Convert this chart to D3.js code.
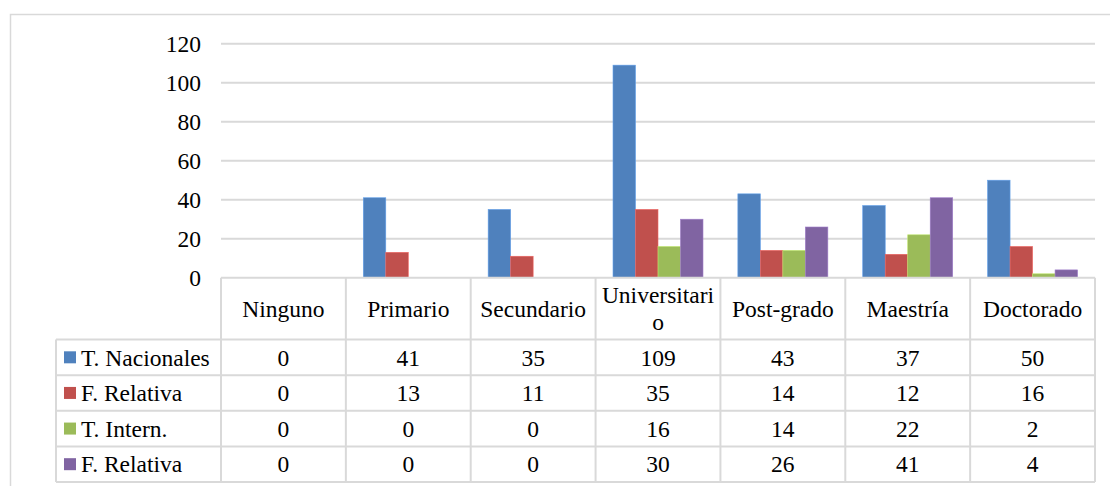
<!DOCTYPE html>
<html>
<head>
<meta charset="utf-8">
<script src="https://cdn.jsdelivr.net/npm/d3@7"></script>
<style>
  html, body { margin: 0; padding: 0; background: #fff; }
  svg { display: block; }
</style>
</head>
<body>
<svg id="chart" width="1110" height="486"></svg>
<script>
const categories = ["Ninguno", "Primario", "Secundario", "Universitario", "Post-grado", "Maestría", "Doctorado"];
const seriesNames = ["T. Nacionales", "F. Relativa", "T. Intern.", "F. Relativa"];
const seriesKeys = ["tNac", "fRel1", "tInt", "fRel2"];
const tNacionales = [0, 41, 35, 109, 43, 37, 50];
const fRelativa1 = [0, 13, 11, 35, 14, 12, 16];
const tIntern = [0, 0, 0, 16, 14, 22, 2];
const fRelativa2 = [0, 0, 0, 30, 26, 41, 4];
const yTicks = [0, 20, 40, 60, 80, 100, 120];
const colors = ["#4F81BD", "#C0504D", "#9BBB59", "#8064A2"];

const seriesValues = [tNacionales, fRelativa1, tIntern, fRelativa2];
const series = seriesKeys.map((k, i) => ({ key: k, name: seriesNames[i], values: seriesValues[i], color: colors[i] }));

const FONT = "'Liberation Serif', 'Times New Roman', serif";
const fontSize = 23.5;
const gridColor = "#D9D9D9";

const svg = d3.select("#chart");

function styleText(sel) {
  return sel.style("font-family", FONT).style("font-size", fontSize + "px").style("fill", "#000");
}

// layout
const plotLeft = 221, plotRight = 1095, plotTop = 43.7, plotBottom = 277.7;
const tableBottom = 482, headerBottom = 339.5, legendLeft = 56;

// outer border
svg.append("rect")
  .attr("x", 10.5).attr("y", 14.5).attr("width", 1120).attr("height", 490)
  .attr("fill", "none").attr("stroke", gridColor).attr("stroke-width", 1.5);

const x0 = d3.scaleBand().domain(categories).range([plotLeft, plotRight]).padding(0);
const x1 = d3.scaleBand().domain(seriesKeys).range([0, x0.bandwidth()]).paddingInner(0).paddingOuter(0.775);
const y = d3.scaleLinear().domain([0, 120]).range([plotBottom, plotTop]);

// gridlines
svg.append("g").selectAll("line").data(yTicks.filter(t => t !== 0)).join("line")
  .attr("x1", plotLeft).attr("x2", plotRight)
  .attr("y1", d => y(d)).attr("y2", d => y(d))
  .attr("stroke", gridColor).attr("stroke-width", 2);

// y axis labels via d3 axis
const yAxis = svg.append("g").attr("transform", `translate(${plotLeft},0)`)
  .call(d3.axisLeft(y).tickValues(yTicks).tickSize(0).tickPadding(20));
yAxis.attr("font-family", null).attr("font-size", null);
yAxis.select(".domain").remove();
styleText(yAxis.selectAll("text"));

// bars
const groups = svg.append("g").selectAll("g").data(categories).join("g")
  .attr("transform", d => `translate(${x0(d)},0)`);
groups.selectAll("rect")
  .data((c, ci) => series.map(s => ({ key: s.key, value: s.values[ci], color: s.color })))
  .join("rect")
  .attr("x", d => x1(d.key))
  .attr("width", x1.bandwidth())
  .attr("y", d => y(d.value))
  .attr("height", d => y(0) - y(d.value))
  .attr("fill", d => d.color)
  .attr("stroke", d => d3.color(d.color).brighter(0.6))
  .attr("stroke-width", d => d.value > 0 ? 0.6 : 0);

// data table
const rowY = d3.scaleBand().domain(seriesKeys.map((k, i) => i)).range([headerBottom, tableBottom]);
const tbl = svg.append("g").attr("stroke", gridColor).attr("stroke-width", 2);

tbl.append("line").attr("x1", plotLeft).attr("x2", plotRight).attr("y1", plotBottom).attr("y2", plotBottom);
const hLines = seriesKeys.map((k, i) => rowY(i)).concat([tableBottom]);
tbl.selectAll("line.h").data(hLines).join("line").attr("class", "h")
  .attr("x1", legendLeft).attr("x2", plotRight).attr("y1", d => d).attr("y2", d => d);
const vBounds = categories.map(c => x0(c)).concat([plotRight]);
tbl.selectAll("line.v").data(vBounds).join("line").attr("class", "v")
  .attr("x1", d => d).attr("x2", d => d).attr("y1", plotBottom).attr("y2", tableBottom);
tbl.append("line").attr("x1", legendLeft).attr("x2", legendLeft).attr("y1", headerBottom).attr("y2", tableBottom);

// header labels with wrapping
const headerMid = (plotBottom + headerBottom) / 2;
const header = styleText(svg.append("g").selectAll("text").data(categories).join("text"))
  .attr("x", d => x0(d) + x0.bandwidth() / 2)
  .attr("text-anchor", "middle");
header.each(function (d) {
  const t = d3.select(this);
  const maxW = x0.bandwidth() - 4;
  t.text(d);
  let lines = [d];
  if (this.getComputedTextLength() > maxW) {
    let cut = d.length;
    while (cut > 1) {
      t.text(d.slice(0, cut));
      if (this.getComputedTextLength() <= maxW) break;
      cut--;
    }
    lines = [d.slice(0, cut), d.slice(cut)];
  }
  t.text(null);
  const lh = 27;
  lines.forEach((ln, i) => {
    t.append("tspan")
      .attr("x", x0(d) + x0.bandwidth() / 2)
      .attr("y", headerMid + (i - (lines.length - 1) / 2) * lh)
      .attr("dy", "0.35em")
      .text(ln);
  });
});

// legend column
const leg = svg.append("g").selectAll("g").data(series).join("g")
  .attr("transform", (d, i) => `translate(0,${rowY(i) + rowY.bandwidth() / 2})`);
leg.append("rect").attr("x", 64).attr("y", -6).attr("width", 12).attr("height", 12)
  .attr("fill", d => d.color);
styleText(leg.append("text")).attr("x", 81).attr("dy", "0.35em").text(d => d.name);

// values
series.forEach((s, si) => {
  styleText(svg.append("g").selectAll("text").data(s.values).join("text"))
    .attr("x", (v, ci) => x0(categories[ci]) + x0.bandwidth() / 2)
    .attr("y", rowY(si) + rowY.bandwidth() / 2)
    .attr("dy", "0.35em")
    .attr("text-anchor", "middle")
    .text(v => v);
});
</script>
</body>
</html>
